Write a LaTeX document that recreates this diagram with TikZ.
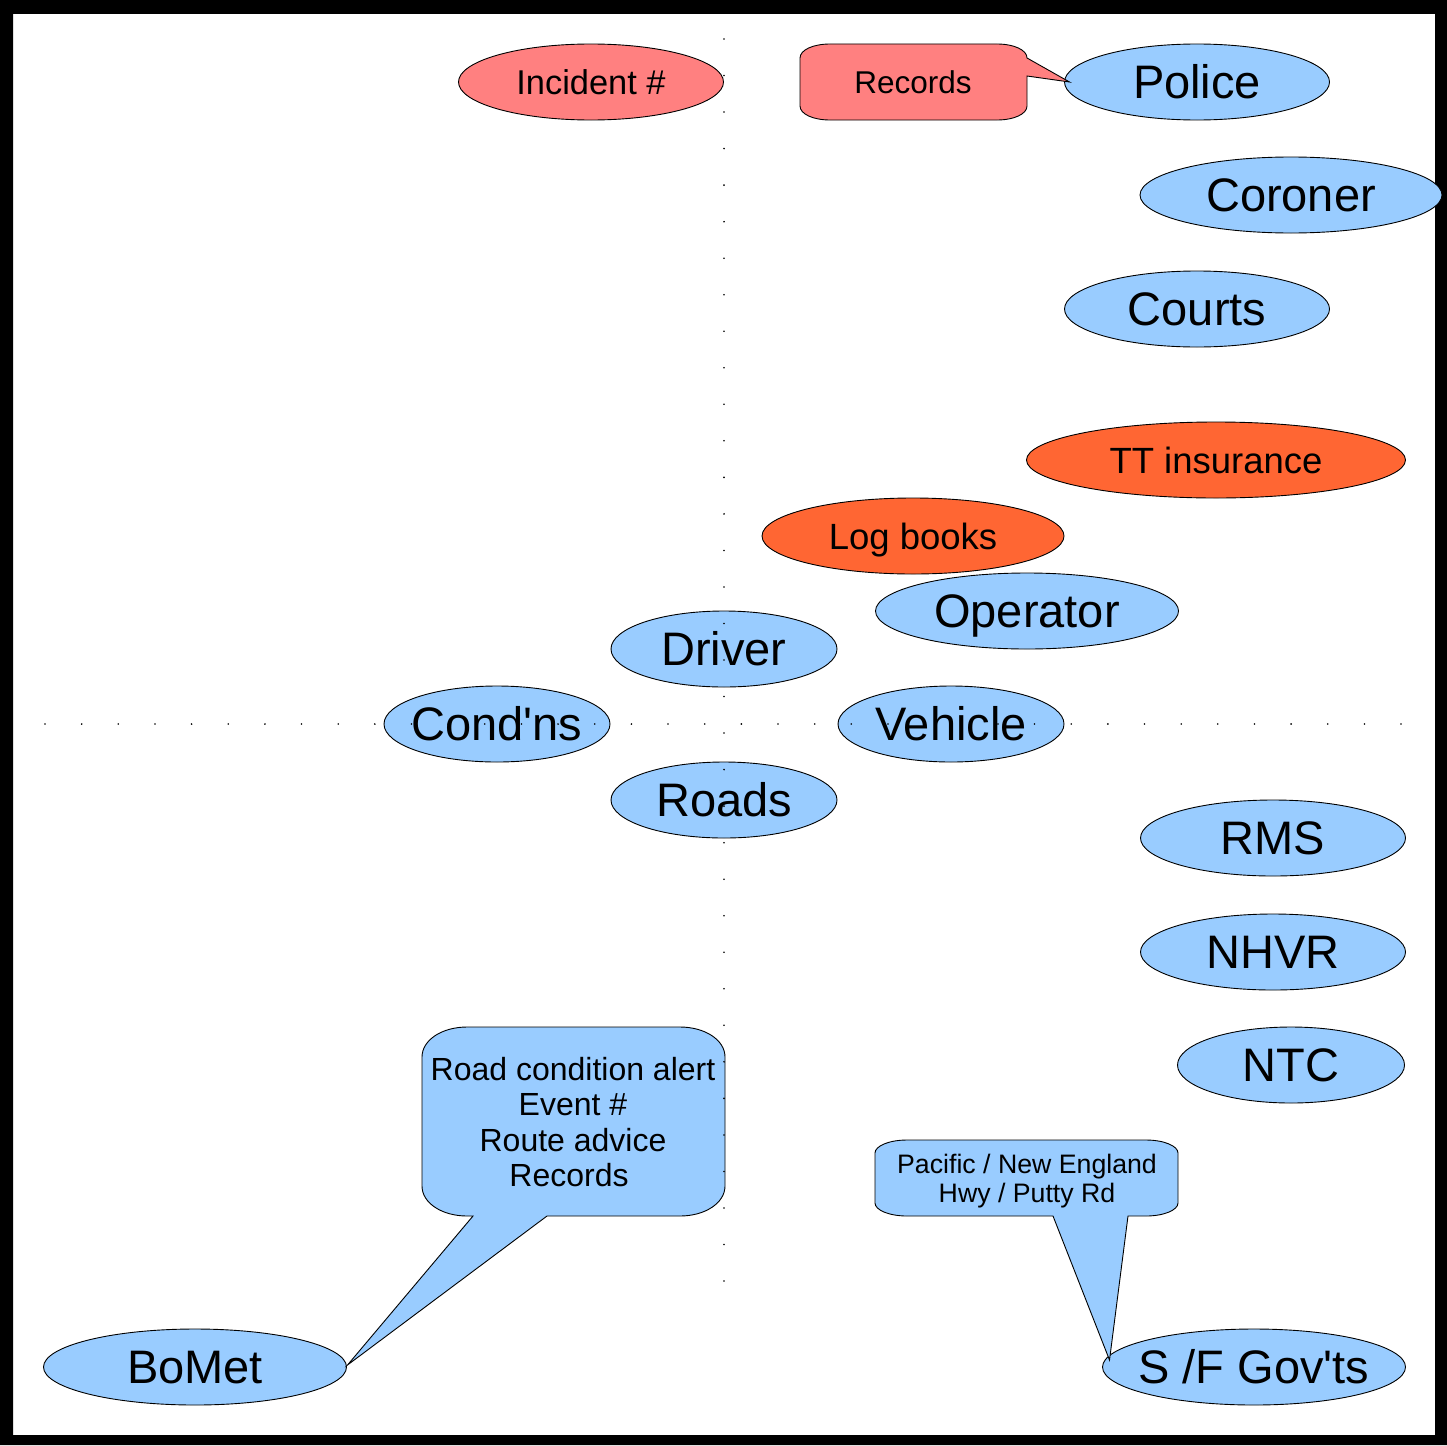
\documentclass[tikz,border=0pt]{standalone}
\usepackage{fontspec}
\setmainfont{Liberation Sans}
\usepackage{xcolor}
\usepackage{tikz}
\usetikzlibrary{shapes.geometric,positioning,calc}

\definecolor{skyfill}{HTML}{99CCFF}
\definecolor{pinkfill}{HTML}{FF8080}
\definecolor{orangefill}{HTML}{FF6633}

\begin{document}
\begin{tikzpicture}[
    x=1pt, y=-1pt,
    bubble/.style={ellipse, draw, line width=0.9pt, fill=skyfill, minimum height=76pt,
        inner xsep=-20pt, inner ysep=0pt, outer sep=0pt},
    callout/.style={draw, line width=0.9pt, fill=skyfill, line join=miter},
    bigtext/.style={font=\fontsize{47}{50}\selectfont, text height=33.6pt, text depth=0pt},
    midtext/.style={font=\fontsize{36.5}{40}\selectfont, text height=26.1pt, text depth=0pt},
    smalltext/.style={font=\fontsize{34.4}{37}\selectfont, text height=24.6pt, text depth=0pt},
    notetext/.style={font=\fontsize{32}{35.5}\selectfont, align=center},
    tinytext/.style={font=\fontsize{26.7}{29}\selectfont, align=center}
]
    \useasboundingbox (0,0) rectangle (1447,1445);
    % frame
    \fill[black, even odd rule] (0,0) rectangle (1447,1445) (13,14) rectangle (1435,1435);

    % top row
    \node[bubble, fill=pinkfill, minimum width=265pt, smalltext] (incident) at (591,82) {Incident \#};
    \node[bubble, minimum width=265pt, bigtext] (police) at (1197,82) {Police};
    \node[bubble, minimum width=302pt, bigtext] (coroner) at (1291,195) {Coroner};
    \node[bubble, minimum width=265pt, bigtext] (courts) at (1197,309) {Courts};

    % insurance, log books
    \node[bubble, fill=orangefill, minimum width=379pt, midtext] (ttins) at (1216,460) {TT insurance};
    \node[bubble, fill=orangefill, minimum width=302pt, midtext] (logbooks) at (913,536) {Log books};

    % centre group
    \node[bubble, minimum width=303pt, bigtext] (operator) at (1027,611) {Operator};
    \node[bubble, minimum width=226pt, bigtext] (driver) at (724,649) {Driver};
    \node[bubble, minimum width=226pt, bigtext] (condns) at (497,724) {Cond\textquotesingle ns};
    \node[bubble, minimum width=226pt, bigtext] (vehicle) at (951,724) {Vehicle};
    \node[bubble, minimum width=226pt, bigtext] (roads) at (724,800) {Roads};

    % agencies
    \node[bubble, minimum width=265pt, bigtext] (rms) at (1273,838) {RMS};
    \node[bubble, minimum width=265pt, bigtext] (nhvr) at (1273,952) {NHVR};
    \node[bubble, minimum width=227pt, bigtext] (ntc) at (1291,1065) {NTC};
    \node[bubble, minimum width=303pt, bigtext] (bomet) at (195,1367) {BoMet};
    \node[bubble, minimum width=303pt, bigtext] (sfgovts) at (1254,1367) {S /F Gov\textquotesingle ts};

    % callouts
    \path[callout, fill=pinkfill] (830,44) -- (997,44) .. controls (1014,44) and (1027,50) .. (1027,58)
        -- ([xshift=5pt]police.west) -- (1027,76)
        -- (1027,106) .. controls (1027,114) and (1014,120) .. (997,120)
        -- (830,120) .. controls (813,120) and (800,114) .. (800,106)
        -- (800,58) .. controls (800,50) and (813,44) .. (830,44) -- cycle;
    \node[smalltext, font=\fontsize{31.5}{35}\selectfont, text height=22.6pt] (records) at (913,82) {Records};

    \path[callout] (467,1027) -- (680,1027) .. controls (705,1027) and (725,1040) .. (725,1057)
        -- (725,1186) .. controls (725,1203) and (705,1216) .. (680,1216)
        -- (547,1216) -- ([xshift=1pt,yshift=2pt]bomet.east) -- (473,1216)
        -- (467,1216) .. controls (442,1216) and (422,1203) .. (422,1186)
        -- (422,1057) .. controls (422,1040) and (442,1027) .. (467,1027) -- cycle;
    \node[notetext] (rcalert) at (573,1122) {Road condition alert\\Event \#\\Route advice\\Records\hspace*{8pt}};

    \path[callout] (907,1140) -- (1146,1140) .. controls (1164,1140) and (1178,1146) .. (1178,1153)
        -- (1178,1203) .. controls (1178,1210) and (1164,1216) .. (1146,1216)
        -- (1128,1216) -- ([xshift=7pt,yshift=7pt]sfgovts.west) -- (1053,1216)
        -- (907,1216) .. controls (889,1216) and (875,1210) .. (875,1203)
        -- (875,1153) .. controls (875,1146) and (889,1140) .. (907,1140) -- cycle;
    \node[tinytext] (pacific) at (1027,1181) {Pacific / New England\\Hwy / Putty Rd};

    % dotted axes
    \foreach \i in {0,...,34}
        \fill[black] (724,{39+\i*36.53}) circle (0.9pt);
    \foreach \i in {0,...,38}
        \fill[black] ({45+\i*36.65},724) circle (0.9pt);
\end{tikzpicture}
\end{document}
